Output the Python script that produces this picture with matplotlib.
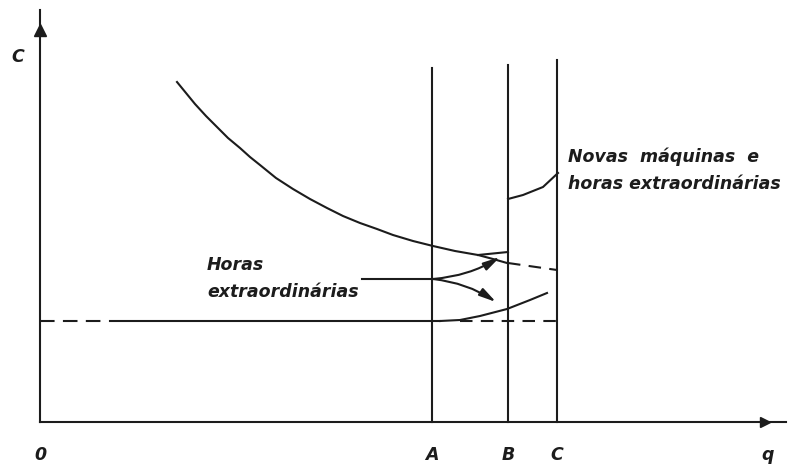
import matplotlib
matplotlib.use("Agg")
import matplotlib.pyplot as plt

# quantity / cost coordinates measured from the origin O
q_A, q_B, q_C = 392, 468, 517
top_A, top_B, top_C = 354, 357, 362

# short-run average cost, falling towards capacity B
ac_q = [137, 146, 155, 166, 177, 188, 200, 210, 220, 236, 253, 270, 287, 303,
        320, 337, 353, 373, 393, 415, 438, 453, 467]
ac_c = [340, 329, 318, 306, 295, 284, 274, 265, 257, 244, 233, 223, 214, 206,
        199, 193, 187, 181, 176, 171, 167, 163, 159]
# branch with overtime between the split point and B
ot_q = [438, 468]
ot_c = [167, 170]
# dashed continuation from B to C
ext_q = [468, 517]
ext_c = [159, 152]

# lower (flat) cost level and its rising overtime part
flat_c = 101
flat_dash_q = [0, 66]
flat_q = [70, 400]
rise_q = [400, 420, 440, 467, 490, 507]
rise_c = [101, 102, 106, 113, 122, 129]
flat_dash2_q = [420, 517]

# new machines + overtime segment between B and C
nm_q = [468, 483, 503, 518]
nm_c = [223, 227, 235, 249]

# pointer lines for "Horas extraordinárias"
lead_q = [322, 393]
lead_c = 143
arrow_up_end = (460, 165)
arrow_down_end = (456, 120)

ink = "#1c1c1c"
lw = 1.5

fig = plt.figure(figsize=(7.94, 4.65), dpi=100)
ax = fig.add_axes([0, 0, 1, 1])
ax.set_xlim(-40, 754)
ax.set_ylim(-43, 422)
ax.axis("off")

# axes with arrows
ax.plot([0, 0], [0, 412], color=ink, lw=lw)
ax.plot([0, 746], [0, 0], color=ink, lw=lw)
ax.plot([0], [392], marker="^", color=ink, ms=8)
ax.plot([725], [0], marker=">", color=ink, ms=7)

# capacity lines
for q, top in [(q_A, top_A), (q_B, top_B), (q_C, top_C)]:
    ax.plot([q, q], [0, top], color=ink, lw=lw)

ax.plot(ac_q, ac_c, color=ink, lw=lw)
ax.plot(ot_q, ot_c, color=ink, lw=lw)
ax.plot(ext_q, ext_c, color=ink, lw=lw, ls=(0, (6, 4)))

ax.plot(flat_dash_q, [flat_c, flat_c], color=ink, lw=lw, ls=(0, (7, 4)))
ax.plot(flat_q, [flat_c, flat_c], color=ink, lw=lw)
ax.plot(rise_q, rise_c, color=ink, lw=lw)
ax.plot(flat_dash2_q, [flat_c, flat_c], color=ink, lw=lw, ls=(0, (6, 4)))

ax.plot(nm_q, nm_c, color=ink, lw=lw)

ax.plot(lead_q, [lead_c, lead_c], color=ink, lw=lw)
for end, rad in [(arrow_up_end, 0.12), (arrow_down_end, -0.12)]:
    ax.annotate("", xy=end, xytext=(lead_q[1], lead_c),
                arrowprops=dict(arrowstyle="-|>,head_length=1.0,head_width=0.25",
                                connectionstyle=f"arc3,rad={rad}",
                                color=ink, lw=lw, shrinkA=0, shrinkB=0))

font = dict(style="italic", weight="bold", fontsize=12.5, color=ink,
            family="DejaVu Sans")
ax.text(167, 157, "Horas", ha="left", va="center", **font)
ax.text(167, 130, "extraordinárias", ha="left", va="center", **font)
ax.text(528, 265, "Novas  máquinas  e", ha="left", va="center", **font)
ax.text(528, 238, "horas extraordinárias", ha="left", va="center", **font)

ax.text(-22, 365, "C", ha="center", va="center", **font)
for label, q in [("0", 0), ("A", q_A), ("B", q_B), ("C", q_C), ("q", 728)]:
    ax.text(q, -33, label, ha="center", va="center", **font)

fig.savefig("out.png", dpi=100)
